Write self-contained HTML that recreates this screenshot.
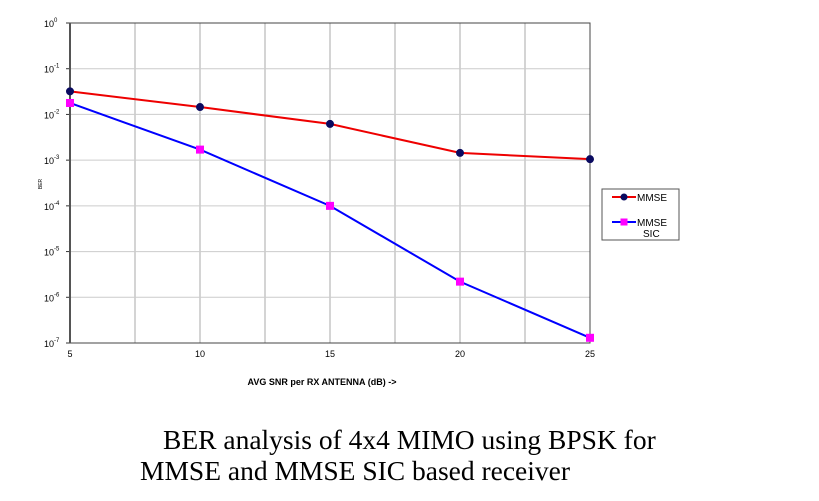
<!DOCTYPE html>
<html><head><meta charset="utf-8"><style>
body{margin:0;background:#fff;width:819px;height:501px;overflow:hidden;position:relative}
svg{position:absolute;left:0;top:0}
.cap{position:absolute;font-family:"Liberation Serif",serif;font-size:27.5px;color:#000;white-space:nowrap;line-height:1}
</style></head><body>
<svg width="819" height="501" font-family="Liberation Sans, sans-serif">
<g id="grid"></g><g id="axes"></g><g id="series"></g>
<g>
<rect x="602" y="189" width="77" height="51" fill="#fff" stroke="#555"/>
<line x1="612" y1="197" x2="636" y2="197" stroke="#e00" stroke-width="2"/><circle cx="624" cy="197" r="3.5" fill="#0a0a60"/>
<text x="637" y="201" font-size="10">MMSE</text>
<line x1="612" y1="222" x2="636" y2="222" stroke="#00f" stroke-width="2"/><rect x="620.5" y="218.5" width="7" height="7" fill="#f0f"/>
<text x="637" y="226" font-size="10">MMSE</text><text x="643" y="237" font-size="10">SIC</text>
</g>
<text x="322" y="385" font-size="9" font-weight="bold" text-anchor="middle">AVG SNR per RX ANTENNA (dB) -&gt;</text>
<text transform="translate(42,184) rotate(-90)" font-size="5" text-anchor="middle">BER</text>
</svg>
<div class="cap" style="left:163px;top:426px">BER analysis of 4x4 MIMO using BPSK for</div>
<div class="cap" style="left:140px;top:457px">MMSE and MMSE SIC based receiver</div>
<script>
const snr=[5,10,15,20,25];
const mmse=[0.032,0.0145,0.0062,0.00144,0.00105];
const mmseSic=[0.0178,0.0017,0.0001,2.2e-6,1.3e-7];
const xTicks=[5,10,15,20,25];
const yExps=[0,-1,-2,-3,-4,-5,-6,-7];
const NS="http://www.w3.org/2000/svg";
const L=70,R=590,T=23,B=343;
const xs=v=>L+(v-5)/20*(R-L);
const ys=v=>T+(-Math.log10(v))/7*(B-T);
function mk(tag,attrs,parent){const e=document.createElementNS(NS,tag);for(const k in attrs)e.setAttribute(k,attrs[k]);document.getElementById(parent).appendChild(e);return e;}
for(let v=7.5;v<25;v+=2.5){const l=mk('line',{x1:xs(v),x2:xs(v),y1:T,y2:B,stroke:'#aaa','stroke-width':1},'grid');

}
yExps.forEach(e=>{const y=ys(Math.pow(10,e));
if(e<0&&e>-7){const l=mk('line',{x1:L,x2:R,y1:y,y2:y,stroke:'#ccc','stroke-width':1},'grid');

}
mk('line',{x1:L-4,x2:L,y1:y,y2:y,stroke:'#333'},'axes');
const t=mk('text',{x:44,y:y+4,'font-size':9},'axes');


t.textContent='10';const s=mk('tspan',{dy:-5,'font-size':6},'axes');t.appendChild(s);s.textContent=String(e);});
const fr=mk('rect',{x:L,y:T,width:R-L,height:B-T,fill:'none',stroke:'#444','stroke-width':1},'axes');


mk('line',{x1:L,x2:L,y1:T,y2:B,stroke:'#555','stroke-width':2},'axes');
xTicks.forEach(v=>{const t=mk('text',{x:xs(v),y:357,'font-size':9,'text-anchor':'middle'},'axes');


t.textContent=v;});
function series(vals,color,marker,name){
const p=mk('polyline',{points:snr.map((x,i)=>xs(x)+','+ys(vals[i])).join(' '),fill:'none',stroke:color,'stroke-width':2},'series');


snr.forEach((x,i)=>{let m;
if(marker==='c')m=mk('circle',{cx:xs(x),cy:ys(vals[i]),r:4,fill:'#0a0a60'},'series');
else m=mk('rect',{x:xs(x)-4,y:ys(vals[i])-4,width:8,height:8,fill:'#f0f'},'series');

});}
series(mmse,'#e00','c','mmse');
series(mmseSic,'#00f','s','mmse-sic');
</script>
</body></html>
